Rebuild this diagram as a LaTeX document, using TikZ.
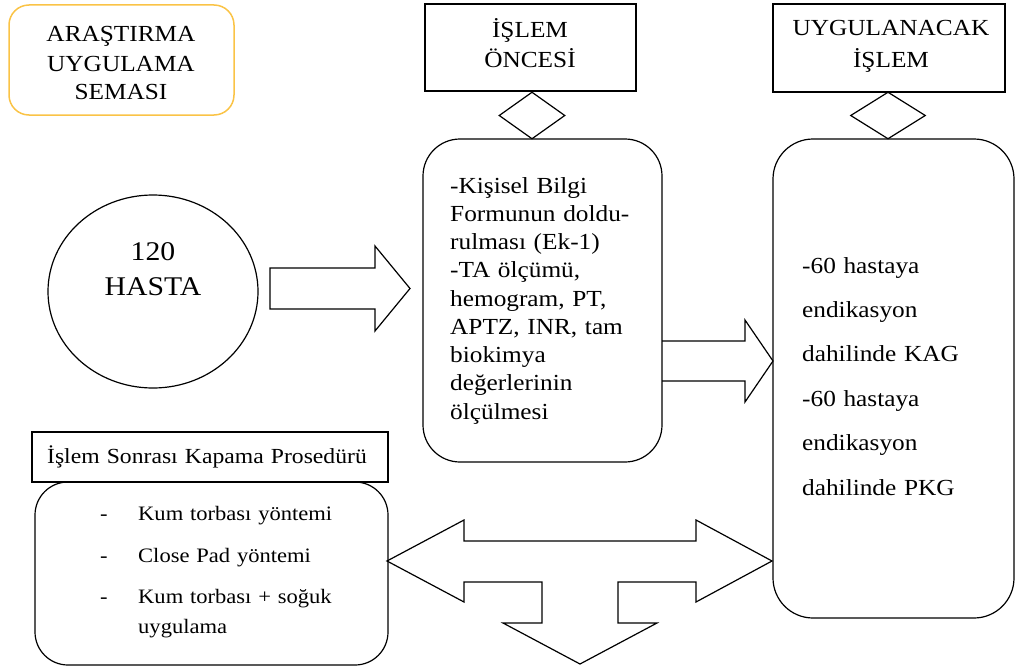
\documentclass[tikz,border=0pt]{standalone}
\usepackage{fontspec}
\setmainfont{Liberation Serif}[FakeStretch=1.1]
\usetikzlibrary{shapes.geometric}
\definecolor{baslikrenk}{RGB}{250,195,70}
\tikzset{
  kutu/.style={draw, line width=1.3pt, inner sep=0pt},
  okbicim/.style={draw, line width=1.2pt, line join=miter},
  yazi/.style={inner sep=0pt, text width=#1, align=center, anchor=base},
  solyazi/.style={inner sep=0pt, text width=#1, align=left, anchor=base west}
}
\begin{document}
\begin{tikzpicture}[x=1pt,y=-1pt]
\useasboundingbox (0,0) rectangle (1017,669);
\node [kutu, draw=baslikrenk, line width=1.5pt, rounded corners=20pt, minimum width=225pt, minimum height=110pt] (baslik) at (121.5,60) {};
\node [yazi=220pt, font=\fontsize{23}{29}\selectfont] (basliky) at (121,42) {ARAŞTIRMA\\UYGULAMA\\SEMASI};
\node [kutu, minimum width=211pt, minimum height=87pt] (oncesi) at (530.5,47.5) {};
\node [yazi=200pt, font=\fontsize{23}{29}\selectfont] (oncesiy) at (530,38) {İŞLEM\\ÖNCESİ};
\node [kutu, minimum width=232pt, minimum height=88pt] (uygulanacak) at (889,48) {};
\node [yazi=225pt, font=\fontsize{23}{32}\selectfont] (uygulanacaky) at (891,36) {UYGULANACAK\\İŞLEM};
\node [kutu, diamond, line width=1.2pt, minimum width=66pt, minimum height=47pt] (elmas1) at (532,115.5) {};
\node [kutu, diamond, line width=1.2pt, minimum width=75pt, minimum height=47pt] (elmas2) at (888,115.5) {};
\node [kutu, ellipse, line width=1.2pt, minimum width=210pt, minimum height=193pt] (hasta) at (153,291.5) {};
\node [yazi=200pt, font=\fontsize{27}{35}\selectfont] (hastay) at (153,260) {120\\HASTA};
\node [kutu, line width=1.2pt, rounded corners=37pt, minimum width=239pt, minimum height=323pt] (bilgi) at (542.5,300.5) {};
\node [solyazi=205pt, font=\fontsize{23}{28.25}\selectfont] (bilgiy) at (450,193) {-Kişisel Bilgi\\Formunun doldu-\\rulması (Ek-1)\\-TA ölçümü,\\hemogram, PT,\\APTZ, INR, tam\\biokimya\\değerlerinin\\ölçülmesi};
\node [kutu, line width=1.2pt, rounded corners=40pt, minimum width=241pt, minimum height=479pt] (islem) at (893.5,378.5) {};
\node [solyazi=205pt, font=\fontsize{23}{44.4}\selectfont] (islemy) at (802,273) {-60 hastaya\\endikasyon\\dahilinde KAG\\-60 hastaya\\endikasyon\\dahilinde PKG};
\node [kutu, minimum width=356pt, minimum height=50pt] (sonra) at (210,457) {};
\node [yazi=350pt, font=\fontsize{21.5}{26}\selectfont] (sonray) at (207,463) {İşlem Sonrası Kapama Prosedürü};
\node [kutu, line width=1.2pt, rounded corners=33pt, minimum width=353pt, minimum height=183pt] (kapama) at (211.5,573.5) {};
\node [solyazi=270pt, font=\fontsize{20.5}{30}\selectfont] (kapamay) at (100,520) {\makebox[38pt][l]{-}Kum torbası yöntemi\\[12pt]\makebox[38pt][l]{-}Close Pad yöntemi\\[11pt]\makebox[38pt][l]{-}Kum torbası + soğuk\\\hspace*{38pt}uygulama};
\draw [okbicim] (270,268) -- (375,268) -- (375,246) -- (410,288.5) -- (375,331) -- (375,309) -- (270,309) -- cycle;
\draw [okbicim] (662,341) -- (745,341) -- (745,320) -- (773,361) -- (745,402) -- (745,381) -- (662,381);
\draw [okbicim] (387,561) -- (464,520) -- (464,541) -- (696,541) -- (696,520) -- (772,561) -- (696,602) -- (696,582) -- (618,582) -- (618,623) -- (657,623) -- (580,664) -- (503,623) -- (542,623) -- (542,582) -- (464,582) -- (464,602) -- cycle;
\end{tikzpicture}
\end{document}
